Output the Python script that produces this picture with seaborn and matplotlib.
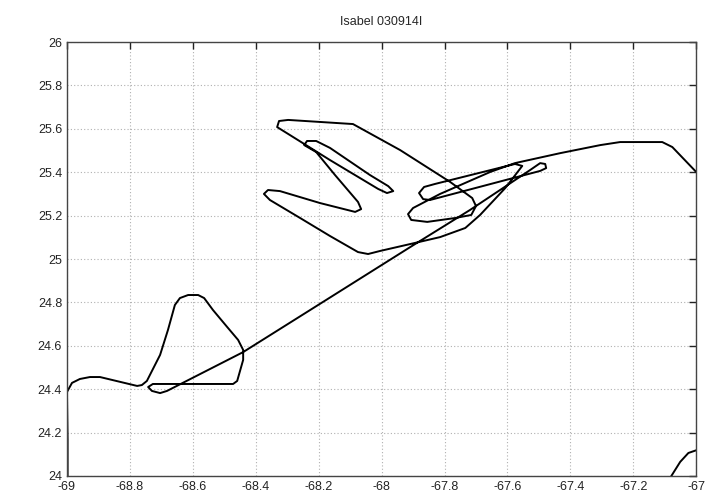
import pandas as pd
import matplotlib
matplotlib.use("Agg")
import matplotlib.pyplot as plt
import seaborn as sb

# flight track, main leg (lon, lat)
lon_main = [-68.998, -68.998, -69.000, -68.984, -68.959, -68.927, -68.895, -68.777, -68.762, -68.746,
            -68.704, -68.679, -68.657, -68.641, -68.615, -68.583, -68.564, -68.536, -68.491, -68.456,
            -68.440, -68.440, -68.459, -68.472, -68.727, -68.742, -68.730, -68.704, -68.682,
            -68.440, -68.227, -67.909, -67.719, -67.528, -67.496, -67.480, -67.477, -67.496,
            -67.846, -67.868, -67.881, -67.865, -67.830, -67.576,
            -67.553, -67.607, -67.687, -67.734, -67.814, -67.909, -68.005, -68.043, -68.075,
            -68.164, -68.259, -68.355, -68.374, -68.361, -68.323, -68.196, -68.084, -68.065,
            -68.075, -68.148, -68.208, -68.246, -68.237, -68.208, -68.164, -68.037, -67.979,
            -67.963, -67.983, -68.011, -68.164, -68.291, -68.332, -68.326, -68.297, -68.091,
            -67.941, -67.782, -67.712, -67.700, -67.715, -67.766, -67.855, -67.906, -67.916,
            -67.900, -67.814, -67.655, -67.576, -67.432, -67.305, -67.242, -67.108, -67.076,
            -67.000, -66.987]
lat_main = [23.990, 24.166, 24.387, 24.429, 24.447, 24.456, 24.456, 24.415, 24.419, 24.438,
            24.558, 24.673, 24.788, 24.820, 24.834, 24.834, 24.820, 24.765, 24.687, 24.627,
            24.581, 24.535, 24.438, 24.424, 24.424, 24.410, 24.392, 24.382, 24.392,
            24.571, 24.765, 25.055, 25.226, 25.410, 25.442, 25.438, 25.419, 25.406,
            25.272, 25.276, 25.304, 25.332, 25.346, 25.438,
            25.429, 25.327, 25.203, 25.143, 25.101, 25.069, 25.037, 25.023, 25.032,
            25.106, 25.189, 25.272, 25.300, 25.318, 25.313, 25.258, 25.217, 25.230,
            25.263, 25.387, 25.493, 25.525, 25.544, 25.544, 25.512, 25.387, 25.336,
            25.313, 25.304, 25.323, 25.456, 25.571, 25.608, 25.636, 25.641, 25.622,
            25.502, 25.355, 25.281, 25.244, 25.203, 25.189, 25.171, 25.180, 25.207,
            25.235, 25.300, 25.401, 25.442, 25.488, 25.525, 25.539, 25.539, 25.516,
            25.401, 25.382]

# short piece re-entering bottom right
lon_end = [-67.083, -67.051, -67.025, -66.997]
lat_end = [23.991, 24.065, 24.106, 24.120]

xticks = [-69, -68.8, -68.6, -68.4, -68.2, -68, -67.8, -67.6, -67.4, -67.2, -67]
yticks = [24, 24.2, 24.4, 24.6, 24.8, 25, 25.2, 25.4, 25.6, 25.8, 26]

sb.set_style("white")
plt.rcParams["font.family"] = ["Liberation Sans", "DejaVu Sans"]

df_main = pd.DataFrame({"lon": lon_main, "lat": lat_main})
df_end = pd.DataFrame({"lon": lon_end, "lat": lat_end})

fig = plt.figure(figsize=(7.2, 5.04), dpi=100)
ax = fig.add_axes([0.093, 0.0556, 0.874, 0.861])

sb.lineplot(data=df_main, x="lon", y="lat", sort=False, estimator=None, color="black", lw=1.4, ax=ax)
sb.lineplot(data=df_end, x="lon", y="lat", sort=False, estimator=None, color="black", lw=1.4, ax=ax)

ax.set_xlim(-69, -67)
ax.set_ylim(24, 26)
ax.set_xticks(xticks)
ax.set_yticks(yticks)
ax.set_xticklabels(["%g" % t for t in xticks])
ax.set_yticklabels(["%g" % t for t in yticks])
ax.grid(True, color="#b0b0b0", linestyle=(0, (1, 2)), linewidth=0.8)
ax.tick_params(direction="in", length=5, width=1, top=True, right=True, labelsize=9, colors="#222222")
for s in ax.spines.values():
    s.set_color("#444444")
    s.set_linewidth(1.0)
ax.set_xlabel("")
ax.set_ylabel("")
ax.set_title("Isabel 030914I", fontsize=9, pad=12)

plt.savefig("out.png", dpi=100)
